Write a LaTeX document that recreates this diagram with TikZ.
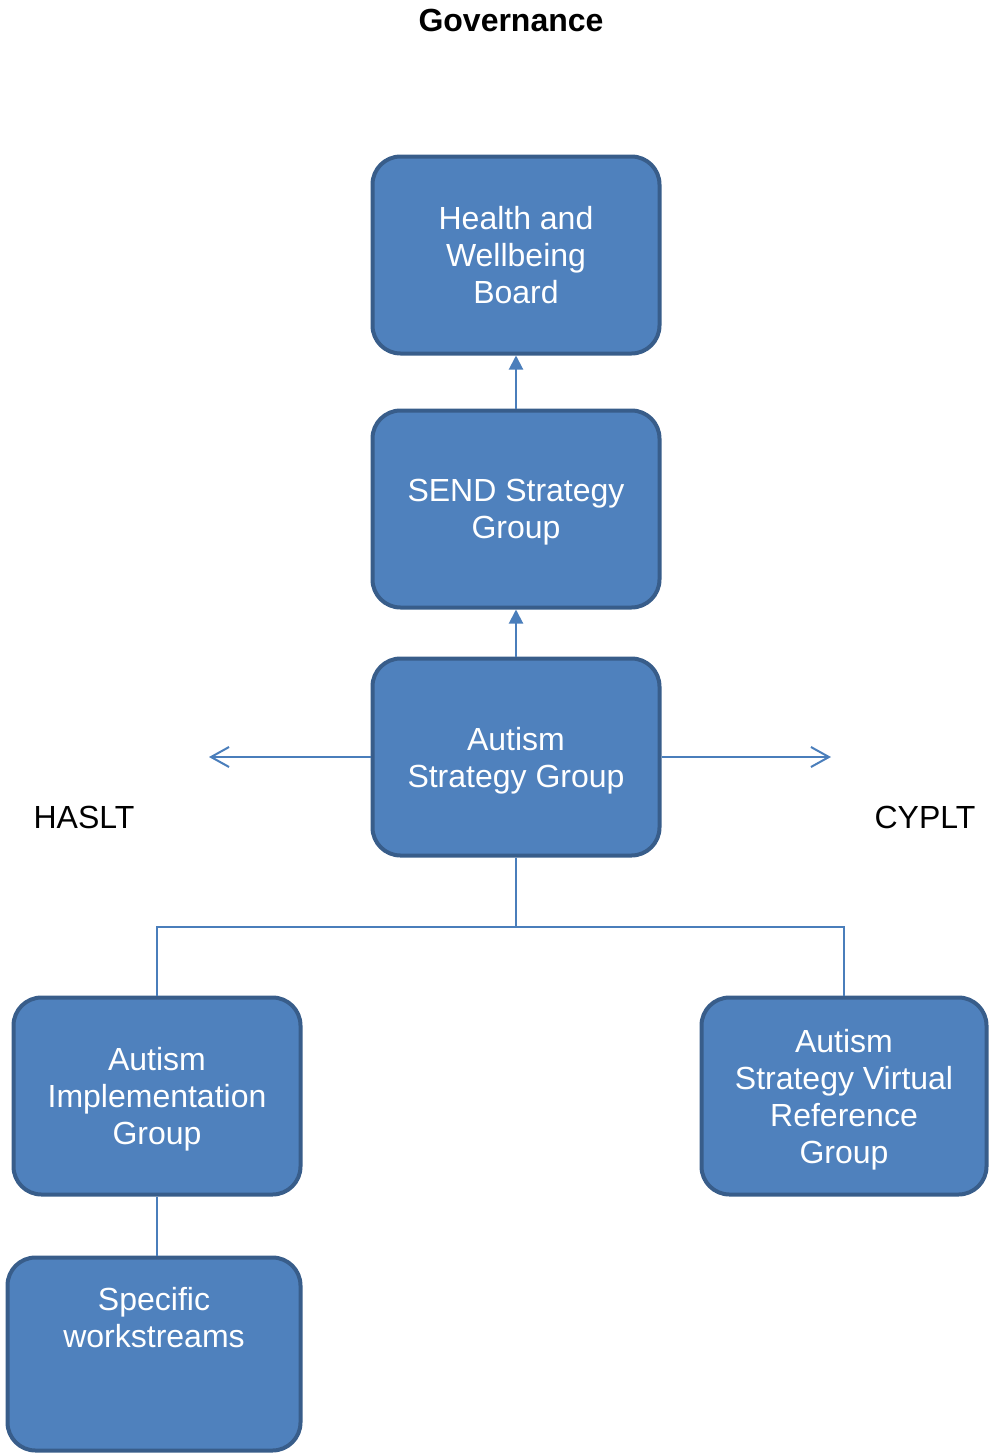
\documentclass[tikz,border=0pt]{standalone}
\usepackage{fontspec}
\setmainfont{Liberation Sans}
\usetikzlibrary{arrows.meta}
\definecolor{boxfill}{HTML}{4F81BD}
\definecolor{boxline}{HTML}{385D8A}
\definecolor{conn}{HTML}{4A7EBB}
\begin{document}
\begin{tikzpicture}[x=1pt,y=-1pt,
  box/.style={draw=boxline, fill=boxfill, line width=4pt, rounded corners=28pt,
    minimum width=287pt, minimum height=197pt, text=white, align=center,
    font=\fontsize{32}{37}\selectfont, inner sep=0pt, text depth=0pt},
  conline/.style={draw=conn, line width=2pt},
  lbl/.style={font=\fontsize{32}{37}\selectfont, inner sep=0pt}]
\useasboundingbox (0,0) rectangle (990,1454);
\node[font=\bfseries\fontsize{32}{38}\selectfont, inner sep=0pt] (title) at (511,20) {Governance};
\node[box] (hwb) at (516,255) {Health and\\Wellbeing\\Board};
\node[box] (send) at (516,509) {SEND Strategy\\Group};
\node[box] (asg) at (516,757) {Autism\\Strategy Group};
\node[box] (aig) at (157,1096) {Autism\\Implementation\\Group};
\node[box, minimum width=285pt] (avr) at (844,1096) {Autism\\Strategy Virtual\\Reference\\Group};
\node[box, minimum width=293pt, minimum height=193pt] (sw) at (154,1354) {};
\node[lbl, text=white, align=center] (swt) at (154,1318) {Specific\\workstreams};
\node[lbl] (haslt) at (84,817) {HASLT};
\node[lbl] (cyplt) at (925,817) {CYPLT};
\coordinate (lend) at (209,757);
\coordinate (rend) at (831,757);
\coordinate (mid) at (516,927);
\draw[conline, -{Triangle[length=14pt,width=14pt]}] (send.north) -- (hwb.south);
\draw[conline, -{Triangle[length=14pt,width=14pt]}] (asg.north) -- (send.south);
\draw[conline, -{Straight Barb[length=18pt,width=20pt,line width=2pt]}] (asg.west) -- (lend);
\draw[conline, -{Straight Barb[length=18pt,width=20pt,line width=2pt]}] (asg.east) -- (rend);
\draw[conline] (asg.south) -- (mid);
\draw[conline] (mid) -| (aig.north);
\draw[conline] (mid) -| (avr.north);
\draw[conline] (aig.south) -- (aig.south |- sw.north);
\end{tikzpicture}
\end{document}
